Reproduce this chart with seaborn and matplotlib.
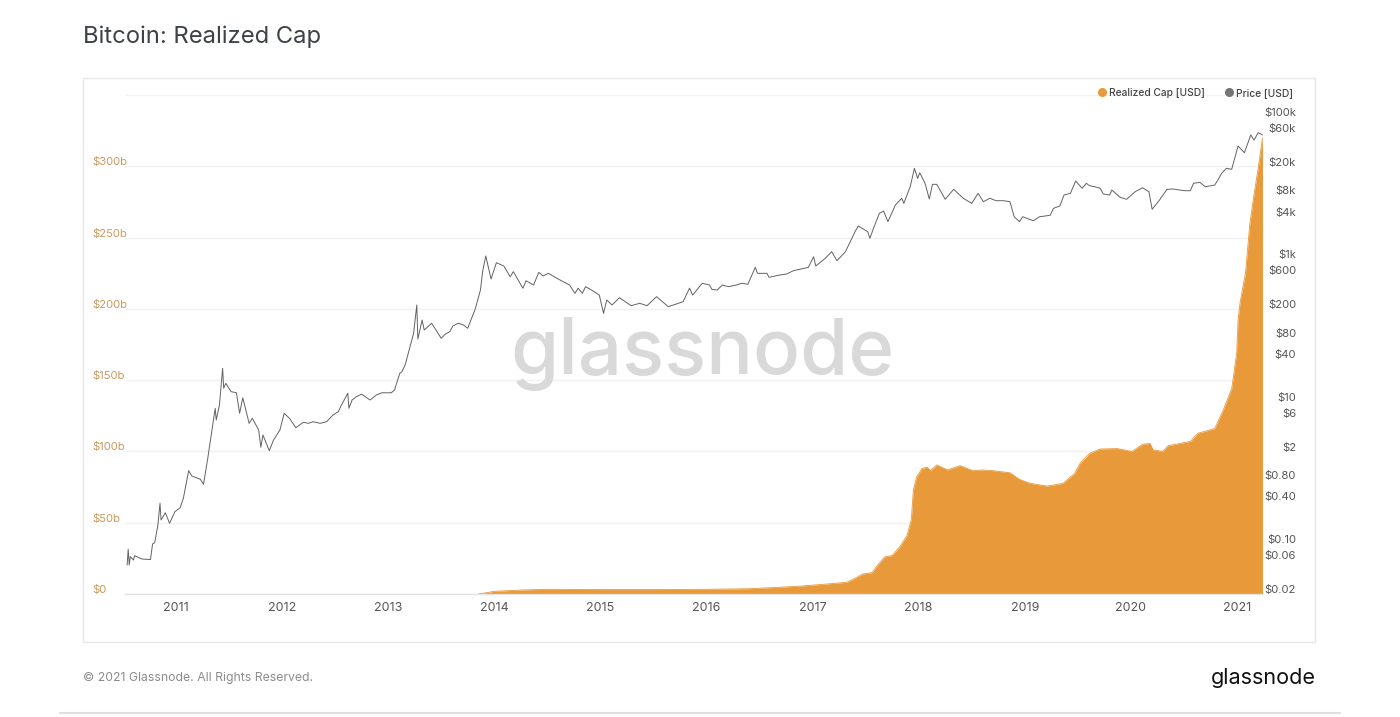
import matplotlib
matplotlib.use("Agg")
import matplotlib.pyplot as plt
import seaborn as sns
import numpy as np
from matplotlib.lines import Line2D
from matplotlib.patches import Rectangle
from matplotlib.transforms import ScaledTranslation

price_years = [2010.54,2010.55,2010.56,2010.57,2010.60,2010.61,2010.68,2010.76,2010.78,2010.80,2010.83,2010.85,2010.86,2010.90,2010.94,2010.99,
2011.04,2011.07,2011.12,2011.15,2011.23,2011.26,2011.30,2011.33,2011.37,2011.38,2011.41,2011.44,2011.45,2011.47,2011.52,2011.57,2011.60,2011.63,2011.69,2011.72,2011.78,2011.80,2011.82,2011.88,2011.92,2011.98,
2012.02,2012.07,2012.13,2012.20,2012.25,2012.29,2012.36,2012.42,2012.48,2012.53,2012.56,2012.62,2012.63,2012.66,2012.70,2012.75,2012.83,2012.89,2012.94,
2013.03,2013.06,2013.11,2013.13,2013.16,2013.19,2013.24,2013.27,2013.28,2013.32,2013.34,2013.41,2013.50,2013.54,2013.58,2013.61,2013.66,2013.71,2013.75,2013.82,2013.87,2013.89,2013.92,2013.95,2013.97,
2014.02,2014.09,2014.15,2014.18,2014.27,2014.30,2014.37,2014.42,2014.46,2014.51,2014.62,2014.71,2014.76,2014.79,2014.83,2014.86,2014.90,2014.99,
2015.03,2015.06,2015.11,2015.18,2015.29,2015.37,2015.44,2015.53,2015.64,2015.78,2015.84,2015.87,2015.96,
2016.03,2016.05,2016.10,2016.15,2016.21,2016.28,2016.33,2016.39,2016.46,2016.48,2016.57,2016.59,2016.69,2016.755,2016.82,2016.96,
2017.01,2017.03,2017.12,2017.18,2017.23,2017.31,2017.40,2017.43,2017.52,2017.54,2017.58,2017.63,2017.67,2017.71,2017.78,2017.84,2017.86,2017.92,2017.96,2017.99,
2018.01,2018.06,2018.10,2018.13,2018.17,2018.25,2018.33,2018.42,2018.50,2018.56,2018.61,2018.67,2018.73,2018.80,2018.86,2018.90,2018.95,2018.98,
2019.08,2019.14,2019.19,2019.24,2019.27,2019.33,2019.37,2019.43,2019.48,2019.54,2019.58,2019.61,2019.66,2019.71,2019.74,2019.80,2019.82,2019.90,2019.96,
2020.04,2020.11,2020.17,2020.20,2020.27,2020.34,2020.40,2020.46,2020.51,2020.56,2020.59,2020.65,2020.70,2020.79,2020.82,2020.855,2020.90,2020.95,
2021.01,2021.07,2021.13,2021.16,2021.20,2021.24]
price_usd = [0.051,0.085,0.051,0.067,0.060,0.069,0.062,0.061,0.101,0.105,0.186,0.376,0.219,0.277,0.197,0.286,
0.326,0.442,1.08,0.908,0.817,0.695,1.61,3.24,8.11,5.56,9.02,29.6,15.5,18.2,13.9,13.4,6.90,11.4,4.99,5.87,4.02,2.30,3.42,2.06,2.91,4.02,
6.90,5.87,4.33,5.16,4.99,5.26,4.99,5.26,6.53,7.26,9.02,13.2,8.11,10.6,11.8,12.8,10.6,12.5,13.4,
13.4,14.7,25.2,26.5,32.9,48.1,91.8,229,76.2,141,102,127,78,89.7,96.6,116,127,120,108,200,372,673,1117,711,531,
900,809,571,673,394,502,437,659,585,638,514,437,334,394,334,414,385,316,
175,269,229,290,224,242,224,300,217,255,394,316,462,
437,381,372,437,414,437,462,448,774,638,638,561,604,624,695,774,
1091,809,1037,1285,959,1285,2449,2951,2449,1982,2884,4446,4786,3388,5808,7228,6138,10500,19050,13770,
16500,11720,7060,11350,11350,7000,9660,7228,6138,8490,6470,7228,6680,6680,6470,3980,3388,3980,
3500,3980,4070,4180,5220,5620,8030,8490,12650,9980,11720,10840,10500,9980,8300,8030,9440,7430,7000,
8930,10160,8930,5060,6840,9660,9750,9440,9230,9230,11720,12100,10500,11090,13060,16180,19050,18450,
39170,31550,55980,47530,60260,55980]

cap_years = [2013.85,2013.90,2013.95,2014.00,2014.15,2014.30,2014.50,2014.75,2015.00,2015.50,2016.00,2016.40,2016.60,2016.88,
2017.10,2017.32,2017.40,2017.47,2017.56,2017.62,2017.68,2017.75,2017.82,2017.89,2017.93,2017.95,2017.98,
2018.03,2018.08,2018.11,2018.17,2018.27,2018.39,2018.51,2018.60,2018.70,2018.86,2018.95,
2019.05,2019.21,2019.36,2019.47,2019.52,2019.61,2019.71,2019.87,
2020.01,2020.11,2020.18,2020.21,2020.30,2020.35,2020.56,2020.63,2020.79,2020.87,2020.95,2020.997,
2021.01,2021.03,2021.05,2021.08,2021.12,2021.16,2021.20,2021.24]
cap_usd_b = [0,0.6,1.2,1.9,2.4,2.9,3.3,3.2,3.1,3.1,3.3,3.7,4.4,5.5,
6.8,8.2,11,14,15,21,26,27,33,41,52,73,82,
88,89,86.5,90.5,87,90,86.5,87,86.5,85,80.4,
77.6,75.7,77.6,84.6,91.6,98.6,101.7,102,
100,105,105.6,101,100,104,107,112.7,116,129,144,169,
192,205,213,225,259,280,299,320]

year_ticks = [2011,2012,2013,2014,2015,2016,2017,2018,2019,2020,2021]
cap_ticks = [0,50,100,150,200,250,300,350]
cap_labels = ["$0","$50b","$100b","$150b","$200b","$250b","$300b",""]
price_ticks = [0.02,0.06,0.1,0.4,0.8,2,6,10,40,80,200,600,1000,4000,8000,20000,60000,100000]
price_labels = ["$0.02","$0.06","$0.10","$0.40","$0.80","$2","$6","$10","$40","$80","$200","$600","$1k","$4k","$8k","$20k","$60k","$100k"]

ORANGE = "#e8993a"
GRAY = "#626262"
FONT = ["Inter", "DejaVu Sans"]

sns.set_theme(style="white")
plt.rcParams["font.family"] = FONT

W, H = 1400, 717
fig = plt.figure(figsize=(14, 7.17), dpi=100, facecolor="white")
ax = fig.add_axes([125/W, (H-594)/H, (1263-125)/W, 499/H])
ax.set_zorder(1)

# panel and page furniture
fig.add_artist(Rectangle((83/W, (H-642)/H), (1315-83)/W, (642-78)/H, transform=fig.transFigure,
                         fill=False, ec="#e8e8e8", lw=1.0))
fig.add_artist(Line2D([60/W, 1340/W], [(H-713)/H]*2, color="#dedede", lw=1.5))
fig.text(83/W, (H-37)/H, "Bitcoin: Realized Cap", fontsize=17.1, color="#3d4248", va="center", ha="left")
fig.text(83/W, (H-678)/H, "© 2021 Glassnode. All Rights Reserved.", fontsize=8.8, color="#8c8c8c", va="center", ha="left")
fig.text(1316/W, (H-684)/H, "glassnode", fontsize=15.5, color="#111111", va="baseline", ha="right")

# realized cap area
ax.set_xlim(2010.52, 2021.245)
ax.set_ylim(0, 350)
ax.text(510/W, (H-374)/H, "glassnode", transform=fig.transFigure, fontsize=56.2, color="#d9d9d9",
        va="baseline", ha="left", fontweight="medium", zorder=1.5)
sns.lineplot(x=cap_years, y=cap_usd_b, ax=ax, color=ORANGE, lw=0.6, estimator=None, sort=False, zorder=2)
ax.fill_between(cap_years, cap_usd_b, 0, color=ORANGE, lw=0, zorder=2)
ax.set_yticks(cap_ticks, cap_labels)
ax.set_xticks(year_ticks, [str(y) for y in year_ticks])
ax.grid(axis="y", color="#f1f1f1", lw=1)
ax.grid(axis="x", visible=False)
ax.set_axisbelow(True)
for s in ["top", "left", "right"]:
    ax.spines[s].set_visible(False)
ax.spines["bottom"].set_color("#e2e2e2")
ax.spines["bottom"].set_linewidth(1)
ax.tick_params(axis="x", length=0, pad=6, labelsize=9, labelcolor="#555555")
ax.tick_params(axis="y", length=0, pad=23.7, labelsize=8.1, labelcolor="#c89a5e")
up = ScaledTranslation(0, 5/100, fig.dpi_scale_trans)
for lab in ax.get_yticklabels():
    lab.set_ha("left")
    lab.set_transform(lab.get_transform() + up)

# price, log scale
ax2 = ax.twinx()
ax2.set_zorder(2)
ax2.patch.set_visible(False)
ax2.set_yscale("log")
ax2.set_ylim(0.02, 0.02 * 10 ** (499 / 71.2))
sns.lineplot(x=price_years, y=price_usd, ax=ax2, color=GRAY, lw=0.7, estimator=None, sort=False)
ax2.set_yticks(price_ticks, price_labels)
ax2.minorticks_off()
ax2.grid(False)
ax2.set_xlabel(""); ax2.set_ylabel("")
for s in ax2.spines.values():
    s.set_visible(False)
ax2.tick_params(axis="y", length=0, pad=23.8, labelsize=8.1, labelcolor="#555555")
for lab in ax2.get_yticklabels():
    lab.set_ha("right")
    lab.set_transform(lab.get_transform() + up)

handles = [Line2D([], [], marker="o", ls="", color=ORANGE, ms=5.5, label="Realized Cap [USD]"),
           Line2D([], [], marker="o", ls="", color="#757575", ms=5.5, label="Price [USD]")]
leg = fig.legend(handles=handles, loc="center right", bbox_to_anchor=(1293/W, (H-93)/H), ncol=2, frameon=False,
                 fontsize=7.35, handletextpad=-0.3, columnspacing=1.35, borderpad=0, borderaxespad=0)
for t in leg.get_texts():
    t.set_color("#444444")
    t.set_fontweight("medium")

fig.savefig("out.png", dpi=100, facecolor="white")
